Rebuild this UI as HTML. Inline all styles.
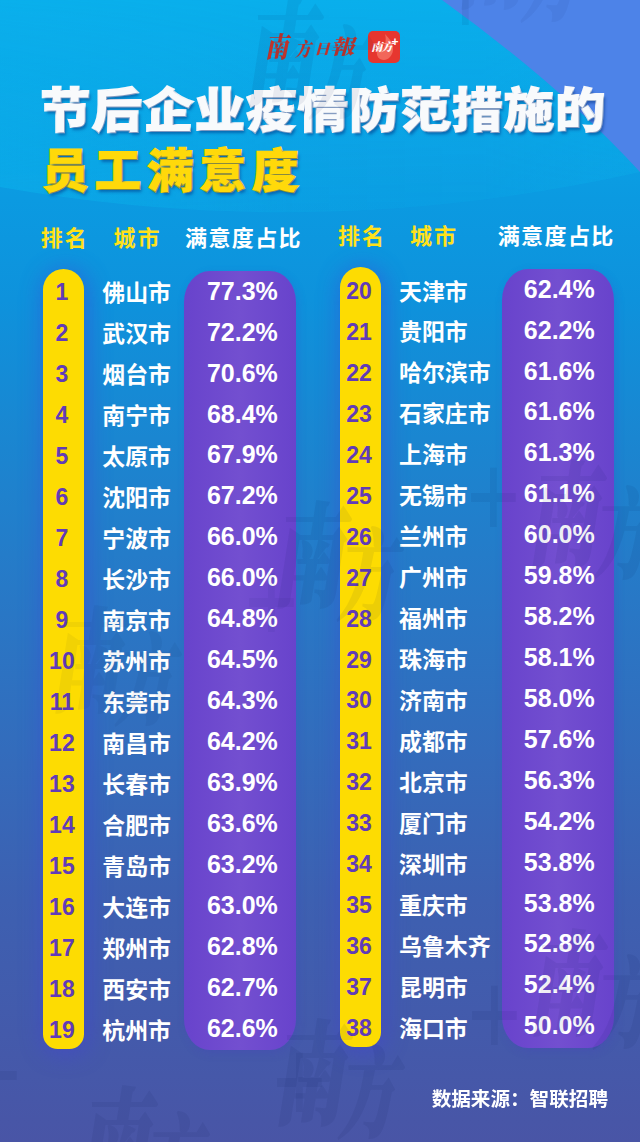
<!DOCTYPE html>
<html lang="zh-CN">
<head>
<meta charset="utf-8">
<title>节后企业疫情防范措施的员工满意度</title>
<style>
html,body{margin:0;padding:0;}
body{width:640px;height:1142px;position:relative;overflow:hidden;
 font-family:"Liberation Sans","Noto Sans CJK SC",sans-serif;
 background:linear-gradient(180deg,#0aafec 0px,#0b9ae1 200px,#0e92dc 300px,#1b85d0 450px,#2878c6 600px,#336cbc 750px,#3d60b1 900px,#4955a6 1142px);}
.abs{position:absolute;}
#tri{position:absolute;left:0;top:0;width:640px;height:1142px;}
.logo span{position:absolute;font-family:"Liberation Serif","Noto Serif CJK SC",serif;font-weight:900;font-style:italic;color:#c0342c;line-height:1;white-space:nowrap;transform-origin:0 0;}
.badge{position:absolute;left:367.5px;top:31px;width:32.5px;height:31.5px;border-radius:5px;background:#e6362f;overflow:hidden;}
.badge svg{position:absolute;left:0;top:0;}
.badge span{position:absolute;color:#fff;font-family:"Liberation Serif","Noto Serif CJK SC",serif;font-weight:900;font-style:italic;white-space:nowrap;line-height:1;}
.t1,.t2{position:absolute;white-space:nowrap;font-family:"Liberation Sans","Noto Sans CJK SC",sans-serif;font-weight:900;line-height:60px;text-shadow:2px 3px 3px rgba(0,50,130,.5);transform-origin:0 100%;-webkit-text-stroke:2px currentColor;paint-order:stroke fill;}
.t1{left:40.5px;top:78.9px;color:#f8fafc;font-size:50px;letter-spacing:1.5px;transform:scaleY(.93);}
.t2{left:42.5px;top:140.5px;color:#ffd90a;font-size:46px;letter-spacing:6.5px;transform:scaleY(1);}
.h{position:absolute;white-space:nowrap;font-weight:700;font-size:22px;line-height:30px;height:30px;letter-spacing:1.4px;}
.h2{letter-spacing:2px;}
.y{color:#ffe11a;}
.w{color:#fff;}
.pill{position:absolute;}
.yp{background:#fddc02;border-radius:20.75px 20.75px 15px 15px;box-shadow:2px 3px 22px 3px rgba(66,64,215,.45);}
.pp{background:linear-gradient(90deg,#6843cc,#734fd0 50%,#6843cc);border-radius:26px / 31px;box-shadow:2px 3px 10px rgba(70,50,200,.18);}
.col{position:absolute;white-space:nowrap;font-weight:700;}
.col div{height:40.97px;line-height:40.97px;}
.rk{color:#613bb8;font-size:23px;text-align:center;width:60px;}
.ct{color:#fff;font-size:22.9px;}
.pc{color:#fff;font-size:25px;text-align:center;width:112px;}
.pcr div{height:40.93px;line-height:40.93px;}
.src{position:absolute;right:32px;top:1084px;color:#fff;font-weight:700;font-size:19.6px;line-height:30px;white-space:nowrap;}
.badge .plus{left:24px;top:5px;font-size:12px;font-style:normal;font-family:"Liberation Sans",sans-serif;font-weight:700;}
.wm{position:absolute;width:0;height:0;opacity:.07;filter:blur(.7px);pointer-events:none;}
.wm span{position:absolute;font-family:"Liberation Serif","Noto Serif CJK SC",serif;font-weight:900;font-style:italic;color:#0a1a4a;white-space:nowrap;line-height:1;transform-origin:0 0;-webkit-text-stroke:2px #0a1a4a;}
.wm .a{left:-12px;top:-4px;font-size:112px;transform:scaleX(.62);}
.wm .b{left:53px;top:22px;font-size:98px;transform:scaleX(.6);}
.wm .c{left:182px;top:-74px;font-size:128px;font-style:normal;transform:scaleX(.75);-webkit-text-stroke:0;}
</style>
</head>
<body>
<svg id="tri" viewBox="0 0 640 1142"><defs><linearGradient id="gv" x1="0" y1="0" x2="0" y2="1"><stop offset="0" stop-color="#fff" stop-opacity=".12"/><stop offset="1" stop-color="#fff" stop-opacity="1"/></linearGradient><linearGradient id="gh" x1="0" y1="0" x2="1" y2="0"><stop offset="0" stop-color="#0ac8f5" stop-opacity=".32"/><stop offset=".45" stop-color="#0ac8f5" stop-opacity=".12"/><stop offset=".75" stop-color="#0ac8f5" stop-opacity=".1"/><stop offset="1" stop-color="#0ac8f5" stop-opacity=".2"/></linearGradient><mask id="mk" maskUnits="userSpaceOnUse" x="0" y="0" width="640" height="250"><rect x="0" y="0" width="640" height="215" fill="url(#gv)"/></mask></defs><path d="M0,187 Q320,244 640,172 L640,0 L0,0 Z" fill="url(#gh)" mask="url(#mk)"/><path d="M442,0 Q560,85 640,172 L640,0 Z" fill="#4d83e8"/></svg>
<div class="logo">
<span style="left:265px;top:33px;font-size:25px;transform:scale(.92,1.12);">南</span>
<span style="left:294.5px;top:39.5px;font-size:18px;transform:scale(.9,1.05);">方</span>
<span style="left:313.5px;top:42.5px;font-size:15px;transform:scale(1.05,.95);">日</span>
<span style="left:329.5px;top:37.5px;font-size:21px;transform:scale(1.15,.97);">報</span>
</div>
<div class="badge">
<svg width="33" height="32" viewBox="0 0 33 32"><path d="M17,3 C21,8 26,11 25,19 C24.5,25 20,29 16,29 C11,29 8,25 9,20 C9.6,16.5 12,15 12.5,12 C14.5,13.5 15,15.5 14.8,17.5 C17.5,14 18.5,8.5 17,3 Z" fill="#f2675a"/></svg>
<span style="left:3.5px;top:10.5px;font-size:11.5px;letter-spacing:-1px;">南方</span>
<span class="plus">+</span>
</div>
<div class="t1">节后企业疫情防范措施的</div>
<div class="t2">员工满意度</div>

<div class="h h2 y" style="left:40.7px;top:223.5px;">排名</div>
<div class="h h2 y" style="left:113.4px;top:223.5px;">城市</div>
<div class="h w" style="left:185px;top:223.5px;">满意度占比</div>
<div class="h h2 y" style="left:337.9px;top:221.5px;">排名</div>
<div class="h h2 y" style="left:409.9px;top:221.5px;">城市</div>
<div class="h w" style="left:497.7px;top:221.5px;">满意度占比</div>

<div class="pill yp" style="left:42.5px;top:269px;width:41.5px;height:780px;"></div>
<div class="pill pp" style="left:184.3px;top:270.7px;width:112px;height:779.3px;"></div>
<div class="pill yp" style="left:339.5px;top:266.5px;width:41.5px;height:780px;"></div>
<div class="pill pp" style="left:502px;top:268.7px;width:111.5px;height:779.3px;"></div>

<div class="col rk" style="left:31.9px;top:272.3px;"><div>1</div><div>2</div><div>3</div><div>4</div><div>5</div><div>6</div><div>7</div><div>8</div><div>9</div><div>10</div><div>11</div><div>12</div><div>13</div><div>14</div><div>15</div><div>16</div><div>17</div><div>18</div><div>19</div></div>
<div class="col ct" style="left:102.3px;top:273.4px;"><div>佛山市</div><div>武汉市</div><div>烟台市</div><div>南宁市</div><div>太原市</div><div>沈阳市</div><div>宁波市</div><div>长沙市</div><div>南京市</div><div>苏州市</div><div>东莞市</div><div>南昌市</div><div>长春市</div><div>合肥市</div><div>青岛市</div><div>大连市</div><div>郑州市</div><div>西安市</div><div>杭州市</div></div>
<div class="col pc" style="left:186.4px;top:270.6px;"><div>77.3%</div><div>72.2%</div><div>70.6%</div><div>68.4%</div><div>67.9%</div><div>67.2%</div><div>66.0%</div><div>66.0%</div><div>64.8%</div><div>64.5%</div><div>64.3%</div><div>64.2%</div><div>63.9%</div><div>63.6%</div><div>63.2%</div><div>63.0%</div><div>62.8%</div><div>62.7%</div><div>62.6%</div></div>
<div class="col rk" style="left:329px;top:270.8px;"><div>20</div><div>21</div><div>22</div><div>23</div><div>24</div><div>25</div><div>26</div><div>27</div><div>28</div><div>29</div><div>30</div><div>31</div><div>32</div><div>33</div><div>34</div><div>35</div><div>36</div><div>37</div><div>38</div></div>
<div class="col ct" style="left:399.1px;top:271.5px;"><div>天津市</div><div>贵阳市</div><div>哈尔滨市</div><div>石家庄市</div><div>上海市</div><div>无锡市</div><div>兰州市</div><div>广州市</div><div>福州市</div><div>珠海市</div><div>济南市</div><div>成都市</div><div>北京市</div><div>厦门市</div><div>深圳市</div><div>重庆市</div><div>乌鲁木齐</div><div>昆明市</div><div>海口市</div></div>
<div class="col pc pcr" style="left:503.3px;top:268.7px;"><div>62.4%</div><div>62.2%</div><div>61.6%</div><div>61.6%</div><div>61.3%</div><div>61.1%</div><div>60.0%</div><div>59.8%</div><div>58.2%</div><div>58.1%</div><div>58.0%</div><div>57.6%</div><div>56.3%</div><div>54.2%</div><div>53.8%</div><div>53.8%</div><div>52.8%</div><div>52.4%</div><div>50.0%</div></div>

<div class="wm" style="left:256px;top:5px;"><span class="a">南</span><span class="b">方</span><span class="c">+</span></div>
<div class="wm" style="left:284px;top:507px;"><span class="a">南</span><span class="b">方</span><span class="c">+</span></div>
<div class="wm" style="left:539px;top:466px;"><span class="a">南</span><span class="b">方</span><span class="c">+</span></div>
<div class="wm" style="left:285px;top:1025px;"><span class="a">南</span><span class="b">方</span><span class="c">+</span></div>
<div class="wm" style="left:540px;top:935px;"><span class="a">南</span><span class="b">方</span><span class="c">+</span></div>
<div class="wm" style="left:90px;top:1092px;"><span class="a">南</span><span class="b">方</span><span class="c">+</span></div>
<div class="wm" style="left:62px;top:612px;opacity:.05;"><span class="a">南</span><span class="b">方</span><span class="c">+</span></div>
<div class="wm" style="left:-215px;top:1085px;"><span class="a">南</span><span class="b">方</span><span class="c">+</span></div>
<div class="wm" style="left:468px;top:-92px;opacity:.05;"><span class="a">南</span><span class="b">方</span><span class="c">+</span></div>
<div class="src">数据来源：智联招聘</div>
</body>
</html>
